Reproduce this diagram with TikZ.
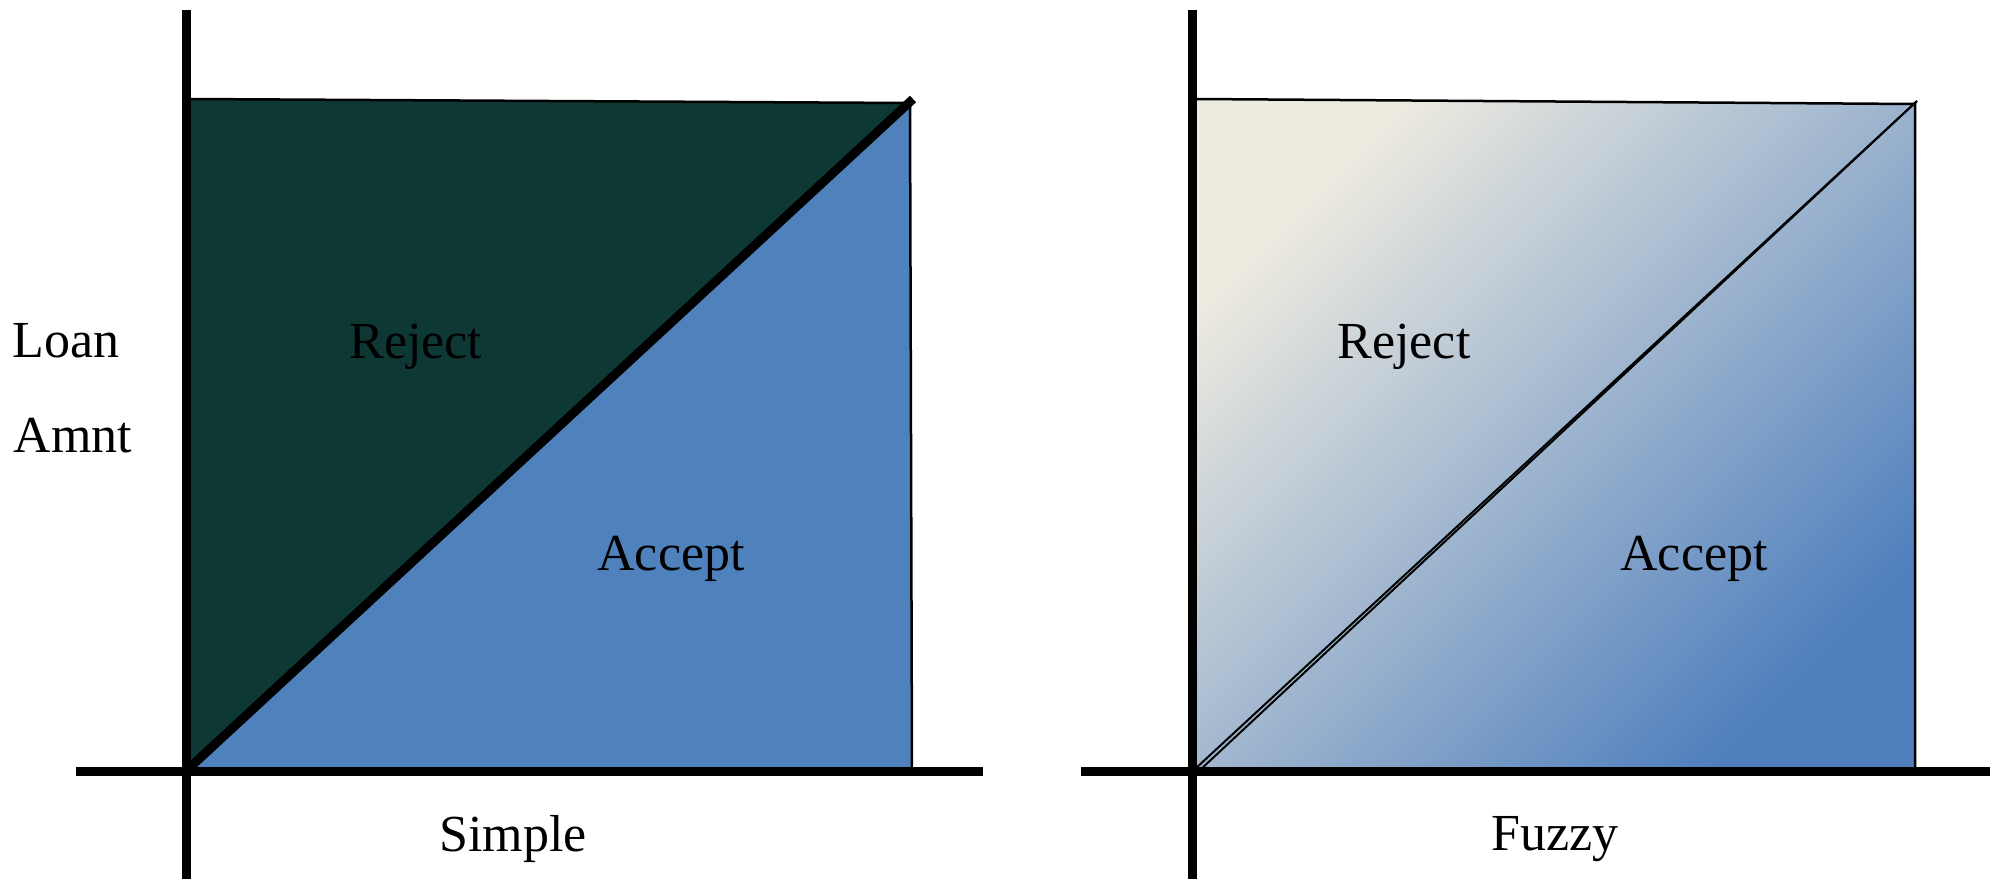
\documentclass[tikz,border=0pt]{standalone}
\usepackage{fontspec}
\setmainfont{Liberation Serif}
\definecolor{darkgreen}{HTML}{0D3833}
\definecolor{accblue}{HTML}{4F81BD}
\definecolor{cream}{HTML}{EEEBE0}
\definecolor{midgray}{HTML}{B7C1D0}
\definecolor{endblue}{HTML}{4F7FBD}
\tikzset{
  axis/.style={line width=9pt},
  edge/.style={line width=2.5pt},
  lbl/.style={font=\fontsize{52}{60}\selectfont, inner sep=0pt}
}
\begin{document}
\begin{tikzpicture}[x=1pt,y=-1pt]
\useasboundingbox (0,0) rectangle (1995,879);
% left panel
\coordinate (LTL) at (191,99);
\coordinate (LTR) at (910,103);
\coordinate (LBR) at (912,771);
\coordinate (LO) at (186,771);
\fill[darkgreen] (LTL) -- (LTR) -- (LO) -- cycle;
\fill[accblue] (LO) -- (LTR) -- (LBR) -- cycle;
\draw[edge] (LTL) -- (LTR) -- (LBR);
\coordinate (LDE) at (913,99);
\draw[line width=9pt] (LO) -- (LDE);
\coordinate (LAT) at (186,10);
\coordinate (LAB) at (186,879);
\coordinate (LAL) at (76,771);
\coordinate (LAR) at (983,771);
\draw[axis] (LAT) -- (LAB);
\draw[axis] (LAL) -- (LAR);
% right panel
\coordinate (RTL) at (1197,99);
\coordinate (RTR) at (1915,104);
\coordinate (RBR) at (1915,771);
\coordinate (RBL) at (1197,771);
\shade[top color=cream, middle color=midgray, bottom color=endblue, shading angle=45]
  (RTL) -- (RTR) -- (RBR) -- (RBL) -- cycle;
\draw[edge] (RTL) -- (RTR) -- (RBR);
\coordinate (RD1) at (1195,769);
\coordinate (RD2) at (1200,770);
\coordinate (RDE) at (1917,101);
\draw[line width=2pt] (RD1) -- (RDE);
\draw[line width=2pt] (RD2) -- (RDE);
\coordinate (RAT) at (1192.5,10);
\coordinate (RAB) at (1192.5,879);
\coordinate (RAL) at (1081,771);
\coordinate (RAR) at (1990,771);
\draw[axis] (RAT) -- (RAB);
\draw[axis] (RAL) -- (RAR);
% labels
\node[lbl] (loan) at (66,341) {Loan};
\node[lbl] (amnt) at (73,436) {Amnt};
\node[lbl] (rej1) at (416,347) {Reject};
\node[lbl] (acc1) at (671,559) {Accept};
\node[lbl] (simple) at (513,839) {Simple};
\node[lbl] (rej2) at (1404,347) {Reject};
\node[lbl] (acc2) at (1694,559) {Accept};
\node[lbl] (fuzzy) at (1555,839) {Fuzzy};
\end{tikzpicture}
\end{document}
